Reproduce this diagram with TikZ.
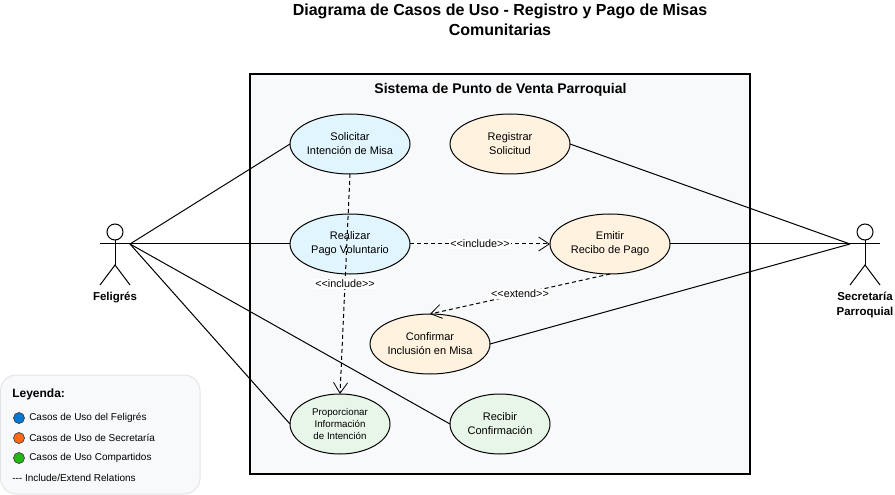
\documentclass[tikz,border=0pt]{standalone}
\usepackage{fontspec}
\setmainfont{Liberation Sans}
\usetikzlibrary{arrows.meta,shapes.geometric}
\definecolor{sysFill}{HTML}{F8F9FA}
\definecolor{fieFill}{HTML}{E1F5FE}
\definecolor{secFill}{HTML}{FFF3E0}
\definecolor{comFill}{HTML}{E8F5E9}
\definecolor{legBorder}{HTML}{E3E5E8}
\definecolor{dotBlue}{HTML}{0078D4}
\definecolor{dotOrange}{HTML}{FF6A13}
\definecolor{dotGreen}{HTML}{22B814}
\tikzset{
  usecase/.style={ellipse, draw=black, line width=0.75pt, inner sep=-8pt, outer sep=0pt,
    minimum width=90pt, minimum height=45pt, align=center, font=\fontsize{8.25}{10.5}\selectfont},
  smallcase/.style={usecase, minimum width=75pt},
  assoc/.style={line width=0.75pt},
  relation/.style={dashed, line width=0.75pt, dash pattern=on 3pt off 2.25pt,
    -{Straight Barb[length=8pt,width=10.5pt,line width=0.6pt]}},
  rellabel/.style={fill=white, inner sep=0.6pt, font=\fontsize{8.1}{9}\selectfont},
  actorlabel/.style={align=center, font=\bfseries\fontsize{8.6}{11.25}\selectfont},
  legdot/.style={circle, draw=black!75, line width=0.5pt, minimum size=8.25pt, inner sep=0pt},
  legtext/.style={right, inner sep=0pt, font=\fontsize{7.5}{9}\selectfont}
}
% stick figure: #1 is the centre x, the arms are at y=244
\newcommand{\stickman}[1]{
  \draw[line width=0.75pt] (#1,232) circle (8);
  \draw[line width=0.75pt] (#1,240) -- (#1,265);
  \draw[line width=0.75pt] (#1-15,244) -- (#1+15,244);
  \draw[line width=0.75pt] (#1-15,285) -- (#1,265) -- (#1+15,285);
}
\begin{document}
\begin{tikzpicture}[x=0.75pt,y=-0.75pt]
  \useasboundingbox (0,0) rectangle (895,495);
  % title
  \node[align=center, font=\bfseries\fontsize{12}{15}\selectfont] (title) at (500,20)
    {Diagrama de Casos de Uso - Registro y Pago de Misas\\Comunitarias};
  % system boundary
  \draw[fill=sysFill, line width=1.5pt] (250,74) rectangle (750,474);
  \node[font=\bfseries\fontsize{10.5}{12}\selectfont] (system) at (500.5,89.5) {Sistema de Punto de Venta Parroquial};
  % use cases
  \node[usecase, fill=fieFill] (solicitar) at (350,144) {Solicitar\\Intención de Misa};
  \node[usecase, fill=secFill] (registrar) at (510,144) {Registrar\\Solicitud};
  \node[usecase, fill=fieFill] (realizar) at (350,244) {Realizar\\Pago Voluntario};
  \node[usecase, fill=secFill] (emitir) at (610,244) {Emitir\\Recibo de Pago};
  \node[usecase, fill=secFill] (confirmar) at (430,344) {Confirmar\\Inclusión en Misa};
  \node[smallcase, fill=comFill, font=\fontsize{7.3}{9}\selectfont] (proporcionar) at (340,424)
    {Proporcionar\\Información\\de Intención};
  \node[smallcase, fill=comFill] (recibir) at (500,424) {Recibir\\Confirmación};
  % actors
  \stickman{115}
  \stickman{865}
  \coordinate (feligresR) at (130,244);
  \coordinate (secretariaL) at (850,244);
  \node[actorlabel] (feligres) at (115,298) {Feligrés};
  \node[actorlabel] (secretaria) at (865,305) {Secretaría\\Parroquial};
  % associations
  \draw[assoc] (feligresR) -- (solicitar.west);
  \draw[assoc] (feligresR) -- (realizar.west);
  \draw[assoc] (feligresR) -- (proporcionar.west);
  \draw[assoc] (feligresR) -- (recibir.west);
  \draw[assoc] (registrar.east) -- (secretariaL);
  \draw[assoc] (emitir.east) -- (secretariaL);
  \draw[assoc] (confirmar.east) -- (secretariaL);
  % include and extend
  \draw[relation] (solicitar.south) -- node[rellabel, pos=0.5] (inc1) {<{}<include>{}>} (proporcionar.north);
  \draw[relation] (realizar.east) -- node[rellabel] (inc2) {<{}<include>{}>} (emitir.west);
  \draw[relation] (emitir.south) -- node[rellabel] (ext1) {<{}<extend>{}>} (confirmar.north);
  % legend
  \draw[fill=sysFill, draw=legBorder, line width=0.75pt, rounded corners=12pt] (0.5,375) rectangle (200,494);
  \node[right, inner sep=0pt, font=\bfseries\fontsize{9}{11}\selectfont] (legtitle) at (12,394) {Leyenda:};
  \node[legdot, fill=dotBlue] (dot1) at (19,418) {};
  \node[legdot, fill=dotOrange] (dot2) at (19,438) {};
  \node[legdot, fill=dotGreen] (dot3) at (19,458) {};
  \node[legtext] (leg1) at (29,418) {Casos de Uso del Feligrés};
  \node[legtext] (leg2) at (29,438) {Casos de Uso de Secretaría};
  \node[legtext] (leg3) at (29,458) {Casos de Uso Compartidos};
  \node[legtext] (leg4) at (12,478) {-{}-{}- Include/Extend Relations};
\end{tikzpicture}
\end{document}
